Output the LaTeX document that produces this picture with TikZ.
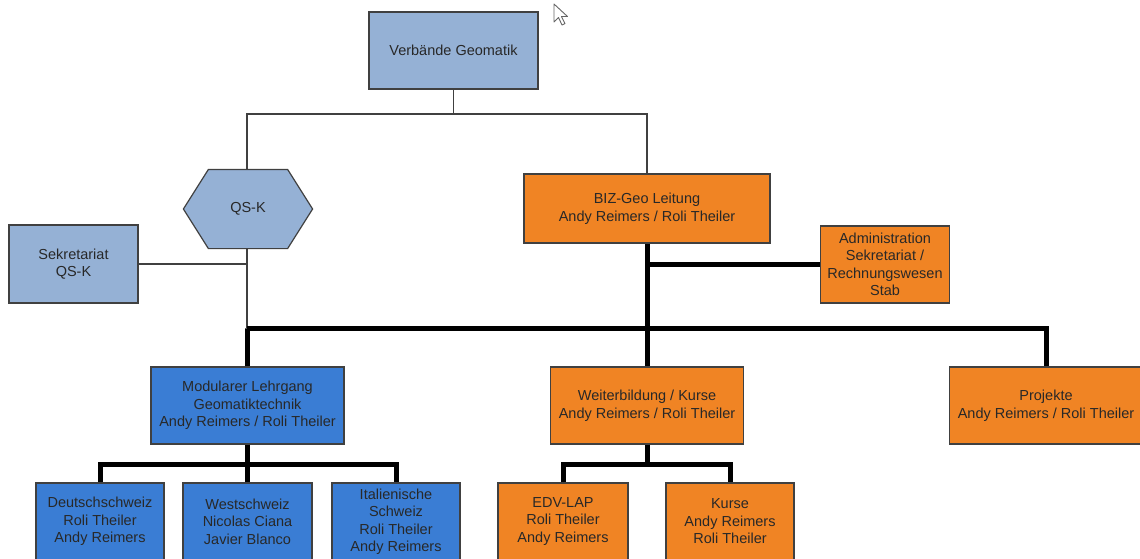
\documentclass[tikz,border=0pt]{standalone}
\usepackage{fontspec}
\setmainfont{Liberation Sans}
\usetikzlibrary{backgrounds}
\definecolor{lblue}{RGB}{149,177,213}
\definecolor{mblue}{RGB}{58,125,212}
\definecolor{orng}{RGB}{240,132,36}
\definecolor{bord}{RGB}{64,64,64}
\definecolor{txt}{RGB}{40,40,40}
\begin{document}
\begin{tikzpicture}[x=1pt,y=-1pt,
  box/.style={draw=bord, line width=1.2pt, inner sep=0pt, align=center, text=txt,
    font=\fontsize{14.5}{17.5}\selectfont},
  lb/.style={box, fill=lblue},
  mb/.style={box, fill=mblue},
  ob/.style={box, fill=orng},
  thinln/.style={draw=bord, line width=1.1pt},
  thk/.style={draw=black, line width=5pt},
  ]
\useasboundingbox (0,0) rectangle (1140,558);
\clip (0,0) rectangle (1140,558);

% nodes
\node[lb, minimum width=169, minimum height=77] (verb) at (453.5,50.5) {Verbände Geomatik};
\node[box, draw=none, minimum width=128, minimum height=78] (qsk) at (248,209) {QS-K};
\node[lb, minimum width=129, minimum height=78] (sek) at (73.5,264) {Sekretariat\\QS-K};
\node[ob, minimum width=246, minimum height=69] (biz) at (647,208.5) {BIZ-Geo Leitung\\Andy Reimers / Roli Theiler};
\node[ob, minimum width=129, minimum height=77] (admin) at (885,264.5) {Administration\\Sekretariat /\\Rechnungswesen\\Stab};
\node[mb, minimum width=193, minimum height=77] (mod) at (247.5,405.5) {Modularer Lehrgang\\Geomatiktechnik\\Andy Reimers / Roli Theiler};
\node[ob, minimum width=193, minimum height=77] (weit) at (647,405.5) {Weiterbildung / Kurse\\Andy Reimers / Roli Theiler};
\node[ob, minimum width=193, minimum height=77] (proj) at (1046,405.5) {Projekte\\Andy Reimers / Roli Theiler};
\node[mb, minimum width=128, minimum height=77] (deu) at (100,521.5) {Deutschschweiz\\Roli Theiler\\Andy Reimers};
\node[mb, minimum width=129, minimum height=77] (west) at (247.5,521.5) {Westschweiz\\Nicolas Ciana\\Javier Blanco};
\node[mb, minimum width=128, minimum height=77] (ital) at (396,521.5) {Italienische\\Schweiz\\Roli Theiler\\Andy Reimers};
\node[ob, minimum width=130, minimum height=77] (edv) at (563,521.5) {EDV-LAP\\Roli Theiler\\Andy Reimers};
\node[ob, minimum width=128, minimum height=77] (kurse) at (730,521.5) {Kurse\\Andy Reimers\\Roli Theiler};

% hexagon outline for QS-K
\begin{scope}[on background layer]
\draw[fill=lblue, draw=bord, line width=1.2pt]
  (qsk.west) -- ([xshift=25]qsk.north west) -- ([xshift=-25]qsk.north east)
  -- (qsk.east) -- ([xshift=-25]qsk.south east) -- ([xshift=25]qsk.south west) -- cycle;
\end{scope}

% junction coordinates
\coordinate (j1) at (454,114);
\coordinate (j2) at (247,328);
\coordinate (j3) at (0,464);

% thin connectors
\draw[thinln] (verb.south) -- (verb.south |- j1);
\draw[thinln] ([xshift=-1]qsk.north) |- (verb.south |- j1) -| (biz.north);
\draw[thinln] (sek.east) -- (sek.east -| j2);
\draw[thinln] (j2 |- qsk.south) -- (j2);

% thick connectors
\draw[thk] (mod.north) |- (j2) -| (proj.north);
\draw[thk] (biz.south) -- (weit.north);
\draw[thk] (biz.south |- admin.west) -- (admin.west);
\draw[thk] (mod.south) -- (mod.south |- j3);
\draw[thk] (deu.north) |- (mod.south |- j3) -| (ital.north);
\draw[thk] (west.north) -- (west.north |- j3);
\draw[thk] (weit.south) -- (weit.south |- j3);
\draw[thk] (edv.north) |- (weit.south |- j3) -| (kurse.north);

% mouse pointer
\draw[fill=white, draw=gray!80!black, line width=0.9pt, line join=round]
  (554,4) -- (554,22) -- (558.5,17.5) -- (562,25) -- (565,23.6) -- (561.5,16.5) -- (567.5,16.5) -- cycle;
\end{tikzpicture}
\end{document}
